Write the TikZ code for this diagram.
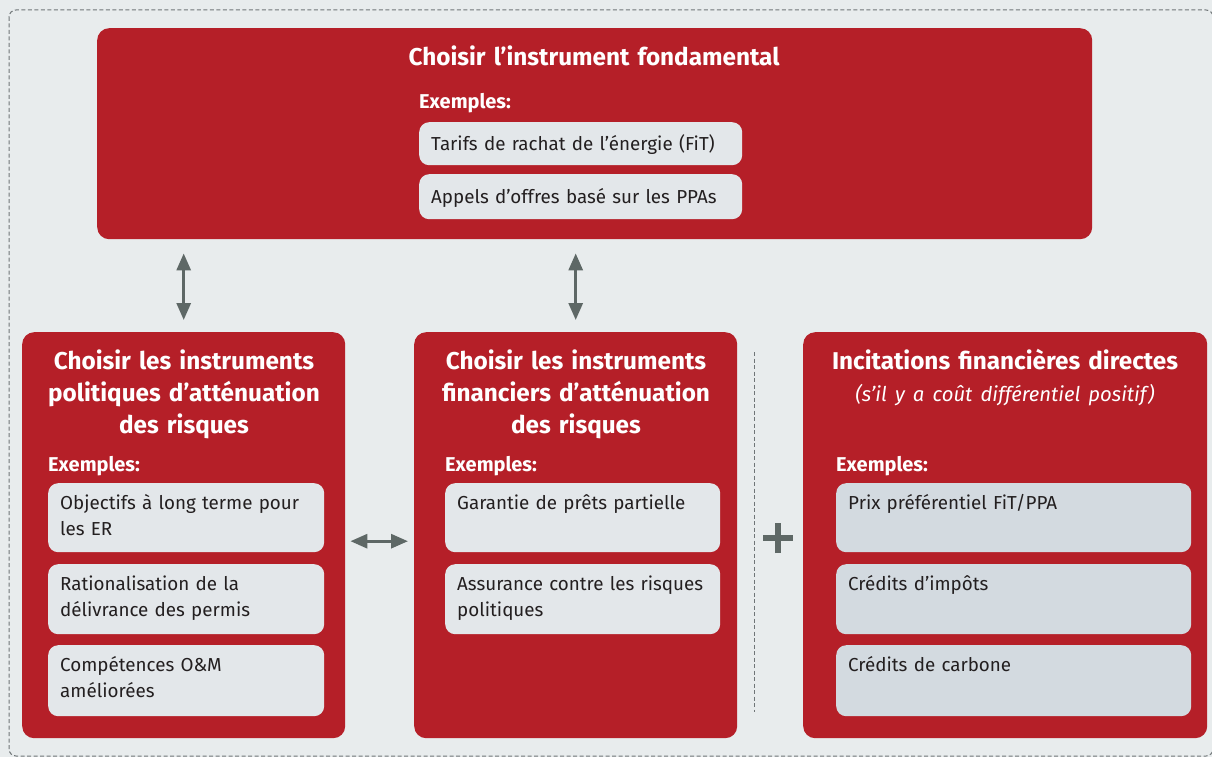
\documentclass[tikz,border=0pt]{standalone}
\usepackage{fontspec}
\setmainfont{Fira Sans}
\usepackage{tikz}
\usetikzlibrary{shapes,arrows.meta,positioning}
\definecolor{paneback}{HTML}{E8ECED}
\definecolor{boxred}{HTML}{B51F28}
\definecolor{itemgrey}{HTML}{E3E7EA}
\definecolor{itemblue}{HTML}{D3DAE0}
\definecolor{arrowgrey}{HTML}{5E6866}
\definecolor{dashgrey}{HTML}{6F7577}
\definecolor{itemink}{HTML}{231F20}

\begin{document}
\begin{tikzpicture}[x=1pt, y=-1pt,
  redbox/.style = {fill=boxred, rounded corners=12pt, anchor=north west,
    inner sep=0pt},
  itembox/.style = {fill=itemgrey, rounded corners=10pt, anchor=north west,
    inner sep=0pt},
  itemtext/.style = {anchor=base west, inner sep=0pt, align=left,
    text width=320pt, text=itemink, font=\fontsize{18.8}{26}\selectfont},
  boxtitle/.style = {anchor=base, inner sep=0pt, align=center, text=white,
    text width=330pt, font=\fontsize{24.3}{32}\selectfont\bfseries},
  exlabel/.style = {anchor=base west, inner sep=0pt, text=white,
    font=\fontsize{20}{22}\selectfont\bfseries},
  dblarrow/.style = {draw=arrowgrey, line width=3pt,
    {Triangle[length=17pt,width=14pt]}-{Triangle[length=17pt,width=14pt]}}]

  \fill[paneback] (0,0) rectangle (1212,757);
  \useasboundingbox (0,0) rectangle (1212,757);
  \clip (0,0) rectangle (1212,757);
  \draw[dashgrey, line width=1pt, dash pattern=on 4pt off 2.5pt,
    rounded corners=7pt] (9,10) rectangle (1213,756);

  % fundamental instrument
  \node[redbox, minimum width=995pt, minimum height=211pt] (fund) at (97,28) {};
  \node[boxtitle, text width=600pt] (fundtitle) at (594,66)
    {Choisir l’instrument fondamental};
  \node[exlabel] (fundex) at (419,109) {Exemples:};
  \node[itembox, minimum width=323pt, minimum height=43pt] (fit) at (419,122) {};
  \node[itemtext] (fittext) at ([shift={(12pt,-28pt)}]fit.north west)
    {Tarifs de rachat de l’énergie (FiT)};
  \node[itembox, minimum width=323pt, minimum height=45pt] (ppa) at (419,174) {};
  \node[itemtext] (ppatext) at ([shift={(12pt,-29pt)}]ppa.north west)
    {Appels d’offres basé sur les PPAs};

  % policy de-risking
  \node[redbox, minimum width=323pt, minimum height=406pt] (pol) at (22,332) {};
  \node[boxtitle] (poltitle) at (184,369)
    {Choisir les instruments\\politiques d’atténuation\\des risques};
  \node[exlabel] (polex) at (48,471) {Exemples:};
  \node[itembox, minimum width=276pt, minimum height=69pt] (pol1) at (48,483) {};
  \node[itemtext] (pol1text) at ([shift={(12pt,-26pt)}]pol1.north west)
    {Objectifs à long terme pour\\les ER};
  \node[itembox, minimum width=276pt, minimum height=70pt] (pol2) at (48,564) {};
  \node[itemtext] (pol2text) at ([shift={(12pt,-26pt)}]pol2.north west)
    {Rationalisation de la\\délivrance des permis};
  \node[itembox, minimum width=276pt, minimum height=71pt] (pol3) at (48,645) {};
  \node[itemtext] (pol3text) at ([shift={(12pt,-26pt)}]pol3.north west)
    {Compétences O\&M\\améliorées};

  % financial de-risking
  \node[redbox, minimum width=323pt, minimum height=406pt] (fin) at (414,332) {};
  \node[boxtitle] (fintitle) at (576,369)
    {Choisir les instruments\\financiers d’atténuation\\des risques};
  \node[exlabel] (finex) at (445,471) {Exemples:};
  \node[itembox, minimum width=275pt, minimum height=69pt] (fin1) at (445,483) {};
  \node[itemtext] (fin1text) at ([shift={(12pt,-26pt)}]fin1.north west)
    {Garantie de prêts partielle};
  \node[itembox, minimum width=275pt, minimum height=70pt] (fin2) at (445,564) {};
  \node[itemtext] (fin2text) at ([shift={(12pt,-26pt)}]fin2.north west)
    {Assurance contre les risques\\politiques};

  % direct incentives
  \node[redbox, minimum width=404pt, minimum height=406pt] (inc) at (803,332) {};
  \node[boxtitle, text width=400pt] (inctitle) at (1005,369)
    {Incitations financières directes\\
     {\mdseries\itshape\fontsize{20.3}{32}\selectfont (s’il y a coût différentiel positif)}};
  \node[exlabel] (incex) at (836,471) {Exemples:};
  \node[itembox, fill=itemblue, minimum width=355pt, minimum height=69pt] (inc1) at (836,483) {};
  \node[itemtext] (inc1text) at ([shift={(12pt,-26pt)}]inc1.north west)
    {Prix préférentiel FiT/PPA};
  \node[itembox, fill=itemblue, minimum width=355pt, minimum height=70pt] (inc2) at (836,564) {};
  \node[itemtext] (inc2text) at ([shift={(12pt,-26pt)}]inc2.north west)
    {Crédits d’impôts};
  \node[itembox, fill=itemblue, minimum width=355pt, minimum height=71pt] (inc3) at (836,645) {};
  \node[itemtext] (inc3text) at ([shift={(12pt,-26pt)}]inc3.north west)
    {Crédits de carbone};

  % connectors
  \draw[dblarrow, shorten <=12pt, shorten >=14pt] (pol.north) -- (pol.north |- fund.south);
  \draw[dblarrow, shorten <=12pt, shorten >=14pt] (fin.north) -- (fin.north |- fund.south);
  \draw[dblarrow, shorten <=5pt, shorten >=6pt]
    ([yshift=-6pt]pol.east) -- ([yshift=-6pt]fin.west);

  \draw[dashgrey, line width=1pt, dash pattern=on 4pt off 2.5pt]
    (754,352) -- (754,712);
  \coordinate (plus) at (778,538);
  \draw[arrowgrey, line width=6pt] ([xshift=-15pt]plus) -- ([xshift=15pt]plus)
    ([yshift=-15pt]plus) -- ([yshift=15pt]plus);
\end{tikzpicture}
\end{document}
